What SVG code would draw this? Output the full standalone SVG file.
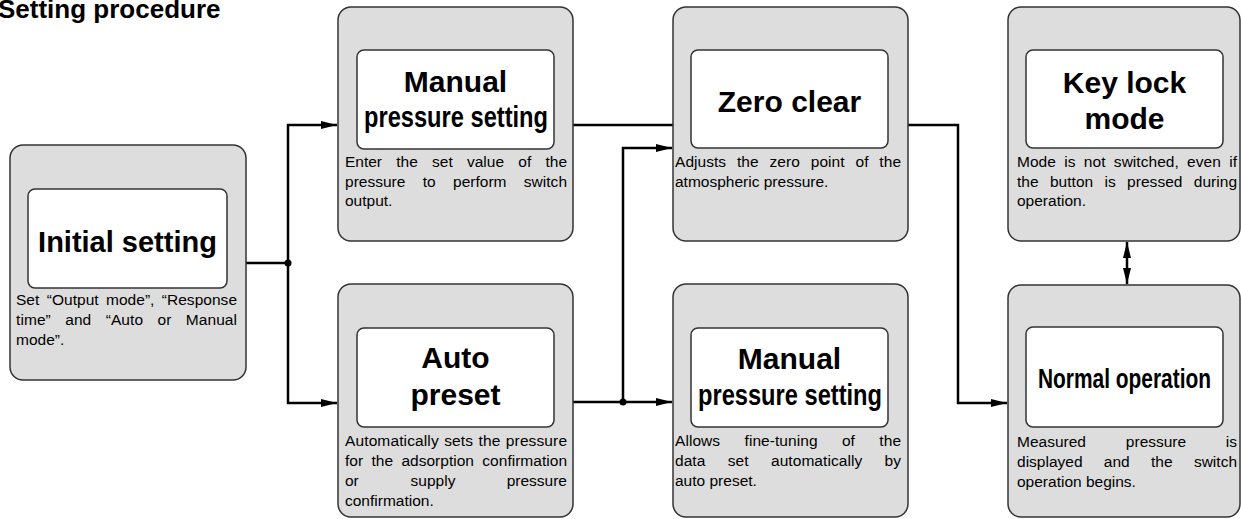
<svg xmlns="http://www.w3.org/2000/svg" width="1241" height="519" viewBox="0 0 1241 519">
<defs>
<style>
.outer{fill:#dddddd;stroke:#333333;stroke-width:1.5}
.inner{fill:#ffffff;stroke:#333333;stroke-width:1.5}
.ttl{font-family:"Liberation Sans",Arial,Helvetica,sans-serif;font-weight:bold;font-size:30px;fill:#000;text-anchor:middle}
.cond{font-family:"Liberation Sans",Arial,Helvetica,sans-serif;font-weight:bold;font-size:30px;fill:#000}
.desc{font-family:"Liberation Sans",Arial,Helvetica,sans-serif;font-size:15.5px;fill:#000}
.head{font-family:"Liberation Sans",Arial,Helvetica,sans-serif;font-weight:bold;font-size:26px;fill:#000}
.wire{fill:none;stroke:#000;stroke-width:2.5}
</style>
<marker id="arr" markerUnits="userSpaceOnUse" markerWidth="17" markerHeight="9" refX="16" refY="4.5" orient="auto">
<path d="M0,0.5 L16,4.5 L0,8.5 z" fill="#000"/>
</marker>
<marker id="arrS" markerUnits="userSpaceOnUse" markerWidth="17" markerHeight="9" refX="16" refY="4.5" orient="auto-start-reverse">
<path d="M0,0.5 L16,4.5 L0,8.5 z" fill="#000"/>
</marker>
</defs>
<text class="head" x="-2" y="18">Setting procedure</text>

<g id="connectors">
<path class="wire" d="M246,263 H288"/>
<path class="wire" d="M288,263 V125 H337" marker-end="url(#arr)"/>
<path class="wire" d="M288,263 V403 H337" marker-end="url(#arr)"/>
<circle cx="288" cy="263" r="3.5" fill="#000"/>
<path class="wire" d="M573,125 H673"/>
<path class="wire" d="M573,402 H672" marker-end="url(#arr)"/>
<path class="wire" d="M623,402 V148 H672" marker-end="url(#arr)"/>
<circle cx="623" cy="402" r="3.5" fill="#000"/>
<path class="wire" d="M908,125 H958 V403 H1007" marker-end="url(#arr)"/>
<path class="wire" d="M1127,242 V284" marker-start="url(#arrS)" marker-end="url(#arrS)"/>
</g>

<g id="initial-setting">
<rect class="outer" x="10" y="145" width="236" height="235" rx="13"/>
<rect class="inner" x="28" y="189" width="199" height="99" rx="7"/>
<text class="ttl" x="127.5" y="252" style="font-size:29px">Initial setting</text>
<text class="desc" x="16" y="305" word-spacing="3" textLength="221" lengthAdjust="spacing">Set “Output mode”, “Response</text>
<text class="desc" x="16" y="325" word-spacing="10" textLength="221" lengthAdjust="spacing">time” and “Auto or Manual</text>
<text class="desc" x="16" y="345">mode”.</text>
</g>

<g id="manual-pressure-setting-1">
<rect class="outer" x="338" y="7" width="235" height="234" rx="13"/>
<rect class="inner" x="357" y="50" width="197" height="99" rx="7"/>
<text class="ttl" x="455.5" y="92">Manual</text>
<text class="cond" x="364" y="127" textLength="184" lengthAdjust="spacingAndGlyphs">pressure setting</text>
<text class="desc" x="345" y="167" word-spacing="10" textLength="222" lengthAdjust="spacing">Enter the set value of the</text>
<text class="desc" x="345" y="187" word-spacing="13" textLength="222" lengthAdjust="spacing">pressure to perform switch</text>
<text class="desc" x="345" y="206">output.</text>
</g>

<g id="auto-preset">
<rect class="outer" x="338" y="284" width="235" height="233" rx="13"/>
<rect class="inner" x="357" y="328" width="197" height="99" rx="7"/>
<text class="ttl" x="455.5" y="368">Auto</text>
<text class="ttl" x="455.5" y="405">preset</text>
<text class="desc" x="345" y="446" word-spacing="1" textLength="222" lengthAdjust="spacing">Automatically sets the pressure</text>
<text class="desc" x="345" y="466" word-spacing="4" textLength="222" lengthAdjust="spacing">for the adsorption confirmation</text>
<text class="desc" x="345" y="486">or</text>
<text class="desc" x="433" y="486" text-anchor="middle">supply</text>
<text class="desc" x="567" y="486" text-anchor="end">pressure</text>
<text class="desc" x="345" y="506">confirmation.</text>
</g>

<g id="zero-clear">
<rect class="outer" x="673" y="7" width="235" height="234" rx="13"/>
<rect class="inner" x="691" y="50" width="197" height="98" rx="7"/>
<text class="ttl" x="789.5" y="112">Zero clear</text>
<text class="desc" x="675" y="167" word-spacing="6.5" textLength="226" lengthAdjust="spacing">Adjusts the zero point of the</text>
<text class="desc" x="675" y="187">atmospheric pressure.</text>
</g>

<g id="manual-pressure-setting-2">
<rect class="outer" x="673" y="284" width="235" height="233" rx="13"/>
<rect class="inner" x="691" y="328" width="197" height="99" rx="7"/>
<text class="ttl" x="789.5" y="369">Manual</text>
<text class="cond" x="698" y="405" textLength="184" lengthAdjust="spacingAndGlyphs">pressure setting</text>
<text class="desc" x="675" y="446" word-spacing="20" textLength="226" lengthAdjust="spacing">Allows fine-tuning of the</text>
<text class="desc" x="675" y="466" word-spacing="18" textLength="226" lengthAdjust="spacing">data set automatically by</text>
<text class="desc" x="675" y="486">auto preset.</text>
</g>

<g id="key-lock-mode">
<rect class="outer" x="1008" y="7" width="232" height="234" rx="13"/>
<rect class="inner" x="1026" y="50" width="197" height="98" rx="7"/>
<text class="ttl" x="1124.5" y="93">Key lock</text>
<text class="ttl" x="1124.5" y="129">mode</text>
<text class="desc" x="1017" y="167" word-spacing="4" textLength="220" lengthAdjust="spacing">Mode is not switched, even if</text>
<text class="desc" x="1017" y="187" word-spacing="7" textLength="220" lengthAdjust="spacing">the button is pressed during</text>
<text class="desc" x="1017" y="206">operation.</text>
</g>

<g id="normal-operation">
<rect class="outer" x="1008" y="285" width="232" height="232" rx="13"/>
<rect class="inner" x="1026" y="327" width="197" height="100" rx="7"/>
<text class="cond" x="1038" y="388" textLength="173" lengthAdjust="spacingAndGlyphs" style="font-size:28px">Normal operation</text>
<text class="desc" x="1017" y="447">Measured</text>
<text class="desc" x="1156" y="447" text-anchor="middle">pressure</text>
<text class="desc" x="1237" y="447" text-anchor="end">is</text>
<text class="desc" x="1017" y="467" word-spacing="17" textLength="220" lengthAdjust="spacing">displayed and the switch</text>
<text class="desc" x="1017" y="487">operation begins.</text>
</g>
</svg>
